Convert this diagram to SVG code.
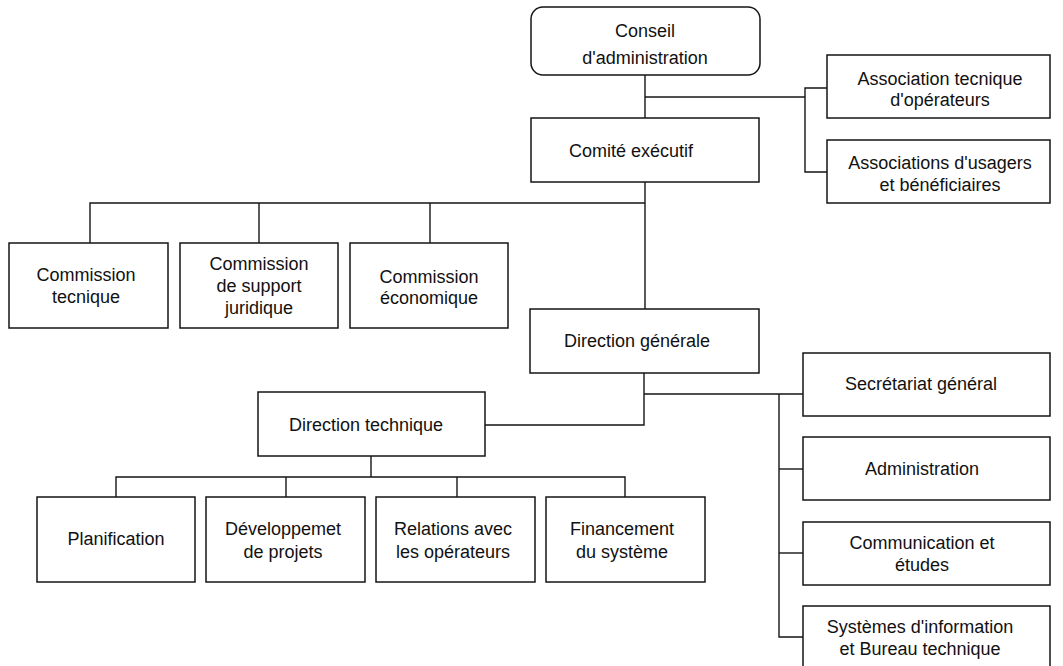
<svg xmlns="http://www.w3.org/2000/svg" width="1063" height="666" viewBox="0 0 1063 666">
  <style>
    .box { fill: #ffffff; stroke: #151515; stroke-width: 1.5; }
    .wire { fill: none; stroke: #151515; stroke-width: 1.4; }
    text { font-family: "Liberation Sans", Arial, sans-serif; font-size: 18px; fill: #111111; text-anchor: middle; }
  </style>
  <rect width="1063" height="666" fill="#ffffff"/>

  <!-- connectors -->
  <g id="connectors" class="wire">
    <!-- board to executive committee and associations -->
    <path d="M645 75 V118"/>
    <path d="M645 97 H805"/>
    <path d="M827 88 H805 V172 H827"/>
    <!-- executive committee to commissions and general direction -->
    <path d="M645 182 V309"/>
    <path d="M90 243 V203 H645"/>
    <path d="M259 203 V243"/>
    <path d="M430 203 V243"/>
    <!-- general direction to technical direction -->
    <path d="M644 373 V425 H485"/>
    <!-- general direction to support services -->
    <path d="M644 394 H803"/>
    <path d="M779 394 V637 H803"/>
    <path d="M779 469 H803"/>
    <path d="M779 553 H803"/>
    <!-- technical direction to departments -->
    <path d="M371 456 V477"/>
    <path d="M116 497 V477 H625 V497"/>
    <path d="M286 477 V497"/>
    <path d="M457 477 V497"/>
  </g>

  <g id="conseil">
    <rect class="box" x="531" y="7" width="229" height="68" rx="12"/>
    <text x="645" y="37">Conseil</text>
    <text x="645" y="64">d'administration</text>
  </g>

  <g id="assoc-operateurs">
    <rect class="box" x="827" y="55" width="223" height="63"/>
    <text x="940" y="85">Association tecnique</text>
    <text x="940" y="106">d'opérateurs</text>
  </g>

  <g id="assoc-usagers">
    <rect class="box" x="827" y="140" width="223" height="63"/>
    <text x="940" y="169">Associations d'usagers</text>
    <text x="940" y="191">et bénéficiaires</text>
  </g>

  <g id="comite">
    <rect class="box" x="531" y="118" width="228" height="64"/>
    <text x="631" y="157">Comité exécutif</text>
  </g>

  <g id="commission-tecnique">
    <rect class="box" x="9" y="243" width="159" height="85"/>
    <text x="86" y="281">Commission</text>
    <text x="86" y="303">tecnique</text>
  </g>

  <g id="commission-juridique">
    <rect class="box" x="180" y="243" width="158" height="85"/>
    <text x="259" y="270">Commission</text>
    <text x="259" y="292">de support</text>
    <text x="259" y="314">juridique</text>
  </g>

  <g id="commission-economique">
    <rect class="box" x="350" y="243" width="158" height="85"/>
    <text x="429" y="283">Commission</text>
    <text x="429" y="304">économique</text>
  </g>

  <g id="direction-generale">
    <rect class="box" x="530" y="309" width="229" height="64"/>
    <text x="637" y="347">Direction générale</text>
  </g>

  <g id="direction-technique">
    <rect class="box" x="258" y="392" width="227" height="64"/>
    <text x="366" y="431">Direction technique</text>
  </g>

  <g id="planification">
    <rect class="box" x="37" y="497" width="158" height="85"/>
    <text x="116" y="545">Planification</text>
  </g>

  <g id="developpement">
    <rect class="box" x="206" y="497" width="159" height="85"/>
    <text x="283" y="535">Développemet</text>
    <text x="283" y="558">de projets</text>
  </g>

  <g id="relations">
    <rect class="box" x="376" y="497" width="159" height="85"/>
    <text x="453" y="535">Relations avec</text>
    <text x="453" y="558">les opérateurs</text>
  </g>

  <g id="financement">
    <rect class="box" x="546" y="497" width="159" height="85"/>
    <text x="622" y="535">Financement</text>
    <text x="622" y="558">du système</text>
  </g>

  <g id="secretariat">
    <rect class="box" x="803" y="353" width="247" height="63"/>
    <text x="921" y="390">Secrétariat général</text>
  </g>

  <g id="administration">
    <rect class="box" x="803" y="437" width="247" height="63"/>
    <text x="922" y="475">Administration</text>
  </g>

  <g id="communication">
    <rect class="box" x="803" y="522" width="247" height="63"/>
    <text x="922" y="549">Communication et</text>
    <text x="922" y="571">études</text>
  </g>

  <g id="systemes">
    <rect class="box" x="803" y="606" width="247" height="64"/>
    <text x="920" y="633">Systèmes d'information</text>
    <text x="920" y="655">et Bureau technique</text>
  </g>
</svg>
